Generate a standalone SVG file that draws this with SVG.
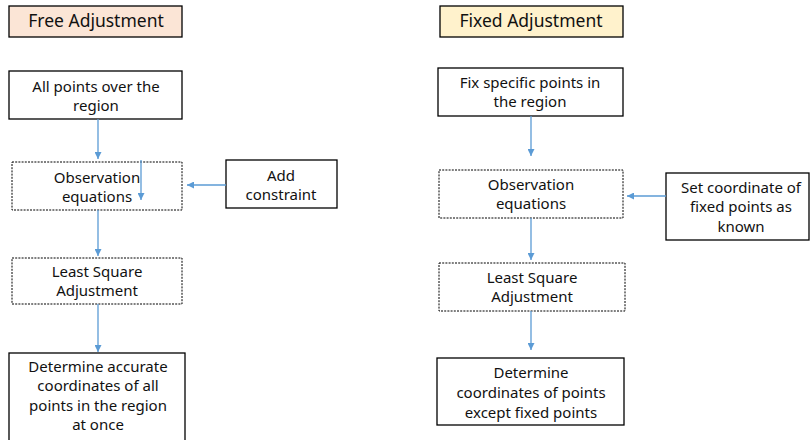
<svg xmlns="http://www.w3.org/2000/svg" width="810" height="440" viewBox="0 0 810 440">
<defs>
<marker id="ah" viewBox="0 0 10 10" refX="10" refY="5" markerWidth="7" markerHeight="7" markerUnits="userSpaceOnUse" orient="auto"><path d="M0,0 L10,5 L0,10 z" fill="#5B9BD5"/></marker>
<style>
.box{fill:#fff;stroke:#000;stroke-width:1.3}
.dash{fill:#fff;stroke:#000;stroke-width:1;stroke-dasharray:2,1.2}
.t{font-family:"Noto Sans","Open Sans","DejaVu Sans",sans-serif;font-size:15px;fill:#111;text-anchor:middle}
.title{font-size:17.5px}
.c{stroke:#5B9BD5;stroke-width:1.3;fill:none;marker-end:url(#ah)}
</style>
</defs>
<rect width="810" height="440" fill="#fff"/>
<g id="free-title"><rect class="box" x="9" y="6" width="173" height="31" style="fill:#FBE5D6"/><text class="t title" x="96" y="27">Free Adjustment</text></g>
<g id="free-points"><rect class="box" x="9" y="71" width="173" height="48"/><text class="t" x="96" y="92">All points over the</text><text class="t" x="96" y="111">region</text></g>
<g id="free-obs"><rect class="dash" x="12" y="162" width="170" height="48"/><text class="t" x="97" y="183">Observation</text><text class="t" x="97" y="202">equations</text></g>
<g id="free-constraint"><rect class="box" x="226" y="160" width="111" height="48"/><text class="t" x="281" y="181">Add</text><text class="t" x="281" y="200">constraint</text></g>
<g id="free-lsa"><rect class="dash" x="12" y="258" width="170" height="46"/><text class="t" x="97" y="277">Least Square</text><text class="t" x="97" y="296">Adjustment</text></g>
<g id="free-result"><rect class="box" x="9" y="353" width="176" height="90"/><text class="t" x="98" y="372">Determine accurate</text><text class="t" x="98" y="391">coordinates of all</text><text class="t" x="98" y="411">points in the region</text><text class="t" x="98" y="430">at once</text></g>
<g id="fixed-title"><rect class="box" x="440" y="6" width="183" height="31" style="fill:#FFF2CC"/><text class="t title" x="531" y="27">Fixed Adjustment</text></g>
<g id="fixed-points"><rect class="box" x="438" y="68" width="185" height="48"/><text class="t" x="530" y="88">Fix specific points in</text><text class="t" x="530" y="107">the region</text></g>
<g id="fixed-obs"><rect class="dash" x="439" y="170" width="184" height="48"/><text class="t" x="531" y="190">Observation</text><text class="t" x="531" y="209">equations</text></g>
<g id="fixed-known"><rect class="box" x="666" y="173" width="143" height="67"/><text class="t" x="741" y="193">Set coordinate of</text><text class="t" x="741" y="212">fixed points as</text><text class="t" x="741" y="232">known</text></g>
<g id="fixed-lsa"><rect class="dash" x="439" y="263" width="186" height="48"/><text class="t" x="532" y="283">Least Square</text><text class="t" x="532" y="302">Adjustment</text></g>
<g id="fixed-result"><rect class="box" x="437" y="358" width="187" height="67"/><text class="t" x="531" y="378">Determine</text><text class="t" x="531" y="398">coordinates of points</text><text class="t" x="531" y="418">except fixed points</text></g>
<g id="connectors">
<line class="c" x1="98" y1="119" x2="98" y2="159"/>
<line class="c" x1="141" y1="160" x2="141" y2="200"/>
<line class="c" x1="226" y1="185" x2="187" y2="185"/>
<line class="c" x1="98" y1="210" x2="98" y2="256"/>
<line class="c" x1="98" y1="304" x2="98" y2="352"/>
<line class="c" x1="531" y1="116" x2="531" y2="156"/>
<line class="c" x1="666" y1="196" x2="627" y2="196"/>
<line class="c" x1="531" y1="218" x2="531" y2="260"/>
<line class="c" x1="531" y1="311" x2="531" y2="350"/>
</g>
</svg>
